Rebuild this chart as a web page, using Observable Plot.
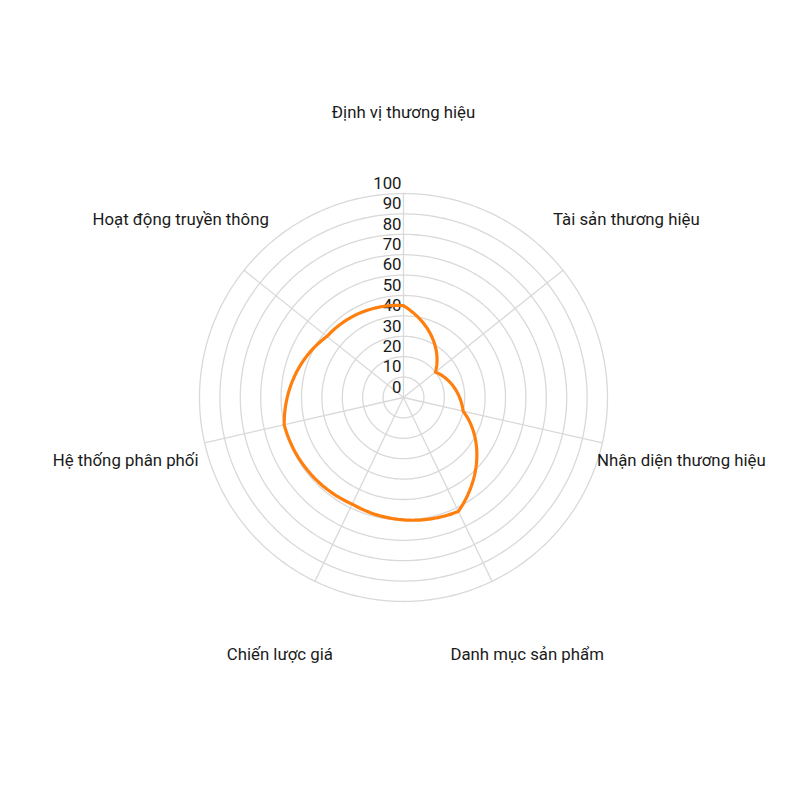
<!DOCTYPE html>
<html>
<head>
<meta charset="utf-8">
<script src="https://cdn.jsdelivr.net/npm/d3@7"></script>
<script src="https://cdn.jsdelivr.net/npm/@observablehq/plot@0.6"></script>
<style>
  html, body { margin: 0; padding: 0; background: #fff; }
</style>
</head>
<body>
<div id="chart"></div>
<script>
const categories = [
  "Định vị thương hiệu",
  "Tài sản thương hiệu",
  "Nhận diện thương hiệu",
  "Danh mục sản phẩm",
  "Chiến lược giá",
  "Hệ thống phân phối",
  "Hoạt động truyền thông"
];
const values = [45, 20, 30, 62, 58, 60, 48];
const tickValues = [0, 10, 20, 30, 40, 50, 60, 70, 80, 90, 100];

// layout
const W = 800, H = 800;
const CX = 403, CY = 397;      // pixel centre
const PX = 2.04;               // pixels per value unit
const LABEL_R = 285 / PX;      // category label radius (value units)
const xDomain = [-CX / PX, (W - CX) / PX];
const yDomain = [-(H - CY) / PX, CY / PX];
const FS = 16.8;

const n = categories.length;
const ang = i => (i * 2 * Math.PI) / n;
const px = (v, i) => v * Math.sin(ang(i));
const py = (v, i) => v * Math.cos(ang(i));

// curve that interpolates linearly in polar coordinates around the centre
function polarClosedCurve(cx, cy, steps = 48) {
  return function (context) {
    let pts = [];
    return {
      areaStart() {}, areaEnd() {},
      lineStart() { pts = []; },
      point(x, y) { pts.push([+x, +y]); },
      lineEnd() {
        const m = pts.length;
        if (!m) return;
        const pol = pts.map(([x, y]) => [Math.atan2(y - cy, x - cx), Math.hypot(x - cx, y - cy)]);
        context.moveTo(pts[0][0], pts[0][1]);
        for (let i = 0; i < m; i++) {
          const [a1, r1] = pol[i];
          const [a2, r2] = pol[(i + 1) % m];
          let da = a2 - a1;
          while (da > Math.PI) da -= 2 * Math.PI;
          while (da <= -Math.PI) da += 2 * Math.PI;
          for (let s = 1; s <= steps; s++) {
            const t = s / steps;
            const a = a1 + da * t, r = r1 + (r2 - r1) * t;
            context.lineTo(cx + r * Math.cos(a), cy + r * Math.sin(a));
          }
        }
        context.closePath();
      }
    };
  };
}
const curve = polarClosedCurve(CX, CY);

const series = categories.map((c, i) => ({ category: c, value: values[i], i }));
const rings = tickValues.filter(v => v > 0).flatMap(v => categories.map((c, i) => ({ ring: v, i })));
const spokes = categories.map((c, i) => ({ i }));
const maxTick = d3.max(tickValues);

const chart = Plot.plot({
  width: W,
  height: H,
  margin: 0,
  x: { domain: xDomain, axis: null },
  y: { domain: yDomain, axis: null },
  style: { fontFamily: "Roboto, 'Noto Sans', sans-serif", fontSize: FS + "px", background: "#fff", color: "#1a1a1a" },
  marks: [
    Plot.line(rings, {
      x: d => px(d.ring, d.i), y: d => py(d.ring, d.i), z: "ring",
      curve, stroke: "#d9d9d9", strokeWidth: 1.3, fill: "none"
    }),
    Plot.link(spokes, {
      x1: 0, y1: 0,
      x2: d => px(maxTick, d.i), y2: d => py(maxTick, d.i),
      stroke: "#d9d9d9", strokeWidth: 1.3
    }),
    Plot.text(tickValues, {
      x: 0, y: d => d, text: d => String(d),
      textAnchor: "end", dx: -2, dy: -10, fontSize: FS, fill: "#1a1a1a"
    }),
    Plot.line(series, {
      x: d => px(d.value, d.i), y: d => py(d.value, d.i),
      curve, stroke: "#ff7f0e", strokeWidth: 3.2, fill: "none", strokeLinejoin: "round"
    }),
    Plot.text(categories, {
      x: (d, i) => px(LABEL_R, i), y: (d, i) => py(LABEL_R, i),
      text: d => d, textAnchor: "middle", fontSize: FS, fill: "#1a1a1a"
    })
  ]
});
document.getElementById("chart").appendChild(chart);
</script>
</body>
</html>
